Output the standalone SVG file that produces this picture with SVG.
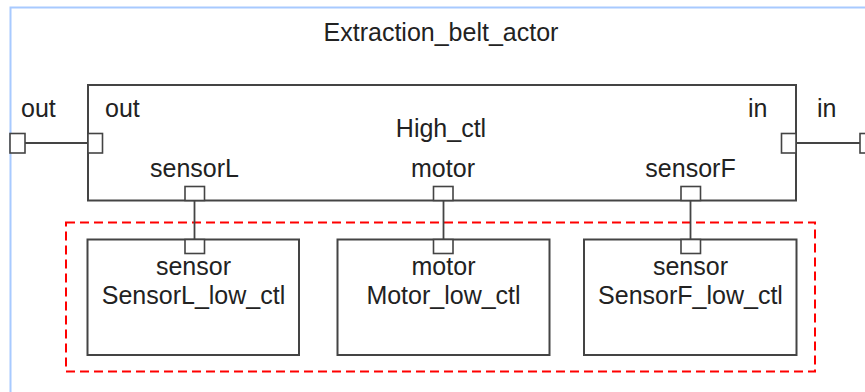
<svg xmlns="http://www.w3.org/2000/svg" width="865" height="392" viewBox="0 0 865 392">
<style>
text{font-family:"Liberation Sans",Arial,sans-serif;font-size:25px;fill:#222}
.c{text-anchor:middle}
.box{fill:#fff;stroke:#444;stroke-width:2}
.port{fill:#fff;stroke:#444;stroke-width:1.6}
.wire{stroke:#444;stroke-width:1.8;fill:none}
</style>
<rect width="865" height="392" fill="#fff"/>
<g id="Extraction_belt_actor">
<rect x="10.5" y="7.5" width="900" height="420" fill="none" stroke="#a8caff" stroke-width="2"/>
<text class="c" x="441" y="41">Extraction_belt_actor</text>
<text x="21" y="117">out</text>
<rect class="port" x="10" y="133.5" width="15" height="19.5"/>
<text x="817" y="117">in</text>
<rect class="port" x="860" y="133.5" width="15" height="19.5"/>
</g>
<g id="group">
<rect x="66" y="222.5" width="749" height="149" fill="none" stroke="#f00" stroke-width="2" stroke-dasharray="9,5"/>
</g>
<g id="High_ctl">
<rect class="box" x="88" y="85" width="708" height="115.5"/>
<text class="c" x="441" y="137">High_ctl</text>
<text x="105" y="117">out</text>
<rect class="port" x="88" y="133.5" width="14.5" height="19.5"/>
<text x="748" y="117">in</text>
<rect class="port" x="781.5" y="133.5" width="14.5" height="19.5"/>
<text class="c" x="194.5" y="177">sensorL</text>
<rect class="port" x="185" y="186.5" width="19.5" height="14"/>
<text class="c" x="443" y="177">motor</text>
<rect class="port" x="433.5" y="186.5" width="19.5" height="14"/>
<text class="c" x="690.5" y="177">sensorF</text>
<rect class="port" x="681" y="186.5" width="19.5" height="14"/>
</g>
<g id="SensorL_low_ctl">
<rect class="box" x="87.5" y="239.5" width="211.5" height="115.5"/>
<rect class="port" x="185" y="239.5" width="19.5" height="14"/>
<text class="c" x="193.5" y="275">sensor</text>
<text class="c" x="193.5" y="304">SensorL_low_ctl</text>
</g>
<g id="Motor_low_ctl">
<rect class="box" x="337.5" y="239.5" width="212" height="115.5"/>
<rect class="port" x="433.5" y="239.5" width="19.5" height="14"/>
<text class="c" x="443.5" y="275">motor</text>
<text class="c" x="443.5" y="304">Motor_low_ctl</text>
</g>
<g id="SensorF_low_ctl">
<rect class="box" x="584" y="239.5" width="212.5" height="115.5"/>
<rect class="port" x="681" y="239.5" width="19.5" height="14"/>
<text class="c" x="690.5" y="275">sensor</text>
<text class="c" x="690.5" y="304">SensorF_low_ctl</text>
</g>
<g id="connectors">
<line class="wire" x1="25" y1="143" x2="88" y2="143"/>
<line class="wire" x1="796" y1="143" x2="860" y2="143"/>
<line class="wire" x1="194.5" y1="200.5" x2="194.5" y2="239.5"/>
<line class="wire" x1="443.5" y1="200.5" x2="443.5" y2="239.5"/>
<line class="wire" x1="690.5" y1="200.5" x2="690.5" y2="239.5"/>
</g>
</svg>
